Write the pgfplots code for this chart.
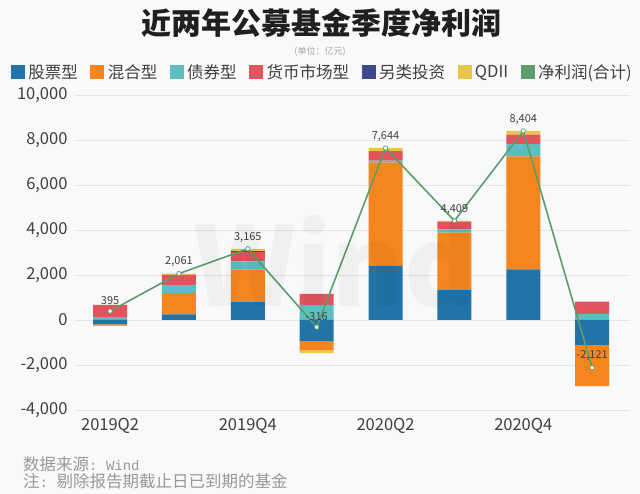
\documentclass[border=0pt]{standalone}
\usepackage{fontspec}
\setmainfont{Noto Sans CJK SC}
\setmonofont{Liberation Mono}
\usepackage{pgfplots}
\pgfplotsset{compat=1.18}

\definecolor{bgc}{HTML}{F8F9FA}
\definecolor{gridc}{HTML}{E2E4E6}
\definecolor{txtc}{HTML}{404040}
\definecolor{stockc}{HTML}{2274A8}
\definecolor{hybridc}{HTML}{F5861F}
\definecolor{bondc}{HTML}{5CBEC0}
\definecolor{moneyc}{HTML}{E2535C}
\definecolor{otherc}{HTML}{3B4A8F}
\definecolor{qdiic}{HTML}{E9C54C}
\definecolor{netc}{HTML}{5E9C6C}

\newcommand{\sq}[1]{\addlegendimage{legend image code/.code={\fill[#1] (0pt,-6.5pt) rectangle (13pt,6.5pt);}}}

% the same frame for the three overlaid axes
\pgfplotsset{base/.style={
    at={(75pt,84pt)}, anchor=south west,
    scale only axis,
    width=555pt, height=315pt,
    xmin=-0.51, xmax=7.55,
    ymin=-4000, ymax=10000,
}}

\begin{document}
\begin{tikzpicture}[x=1pt,y=1pt]
\fill[bgc] (0,0) rectangle (640,494);
\node[font=\fontsize{30}{36}\selectfont\bfseries, text=black!88] at (321,471) {近两年公募基金季度净利润};
\node[font=\fontsize{9}{11}\selectfont, text=black!35] at (320,442) {(单位：亿元)};
\node[anchor=west, font=\fontsize{16.5}{19}\selectfont, text=black!40, inner sep=0pt] at (23,30) {数据来源{\fontsize{14}{16}\selectfont\texttt{: Wind}}};
\node[anchor=west, font=\fontsize{16.5}{19}\selectfont, text=black!40, inner sep=0pt] at (23,13) {注{\fontsize{14}{16}\selectfont\texttt{: }}剔除报告期截止日已到期的基金};

% positive parts
\begin{axis}[
    base,
    ybar stacked,
    bar width=34pt,
    xtick={0,2,4,6},
    xticklabels={2019Q2,2019Q4,2020Q2,2020Q4},
    ytick={-4000,-2000,0,2000,4000,6000,8000,10000},
    scaled y ticks=false,
    major tick length=0pt,
    axis line style={draw=none},
    ymajorgrids,
    grid style={gridc, line width=0.8pt},
    tick label style={font=\fontsize{16.5}{19}\selectfont, text=txtc},
    xticklabel style={yshift=-5pt},
    yticklabel style={xshift=-4pt},
    /pgf/number format/.cd, 1000 sep={,}, assume math mode=true, /pgfplots/.cd,
    legend style={at={(-0.121,1.073)}, anchor=west, draw=none, fill=none,
        font=\fontsize{16.5}{19}\selectfont, text=txtc,
        nodes={inner sep=2pt},
        /tikz/every odd column/.append style={column sep=2pt},
        /tikz/every even column/.append style={column sep=10.5pt}},
    legend columns=-1,
]
\addplot[fill=stockc, draw=none, forget plot] coordinates {(0,0) (1,250) (2,790) (3,0) (4,2400) (5,1330) (6,2250) (7,0)};
\addplot[fill=hybridc, draw=none, forget plot] coordinates {(0,0) (1,940) (2,1450) (3,0) (4,4600) (5,2550) (6,5020) (7,0)};
\addplot[fill=bondc, draw=none, forget plot] coordinates {(0,130) (1,370) (2,370) (3,670) (4,80) (5,150) (6,550) (7,270)};
\addplot[fill=moneyc, draw=none, forget plot] coordinates {(0,540) (1,450) (2,420) (3,490) (4,380) (5,340) (6,420) (7,550)};
\addplot[fill=otherc, draw=none, forget plot] coordinates {(0,0) (1,0) (2,30) (3,0) (4,30) (5,0) (6,0) (7,0)};
\addplot[fill=qdiic, draw=none, forget plot] coordinates {(0,0) (1,50) (2,105) (3,0) (4,155) (5,40) (6,165) (7,0)};
\sq{stockc}\sq{hybridc}\sq{bondc}\sq{moneyc}\sq{otherc}\sq{qdiic}\sq{netc}
\legend{股票型,混合型,债券型,货币市场型,另类投资,QDII,净利润(合计)}
\end{axis}

% negative parts
\begin{axis}[base, hide axis, ybar stacked, bar width=34pt]
\addplot[fill=stockc, draw=none] coordinates {(0,-190) (1,0) (2,0) (3,-950) (4,0) (5,0) (6,0) (7,-1110)};
\addplot[fill=hybridc, draw=none] coordinates {(0,-60) (1,0) (2,0) (3,-400) (4,0) (5,0) (6,0) (7,-1830)};
\addplot[fill=qdiic, draw=none] coordinates {(0,-25) (1,0) (2,0) (3,-125) (4,0) (5,0) (6,0) (7,0)};
\end{axis}

% net profit
\begin{axis}[base, hide axis]
\addplot[draw=netc, line width=1.6pt,
    mark=*, mark size=2.2pt, mark options={fill=white, draw=netc, line width=0.7pt},
    point meta=explicit symbolic, nodes near coords,
    every node near coord/.append style={font=\fontsize{11}{13}\selectfont, text=txtc, anchor=south, yshift=3pt}]
    coordinates {(0,395) [395] (1,2061) [{2,061}] (2,3165) [{3,165}] (3,-316) [-316]
                 (4,7644) [{7,644}] (5,4409) [{4,409}] (6,8404) [{8,404}] (7,-2121) [{-2,121}]};
\end{axis}
\node[font=\fontsize{110}{120}\selectfont\bfseries, text=black, opacity=0.035] at (335,232) {Wind};
\end{tikzpicture}
\end{document}
